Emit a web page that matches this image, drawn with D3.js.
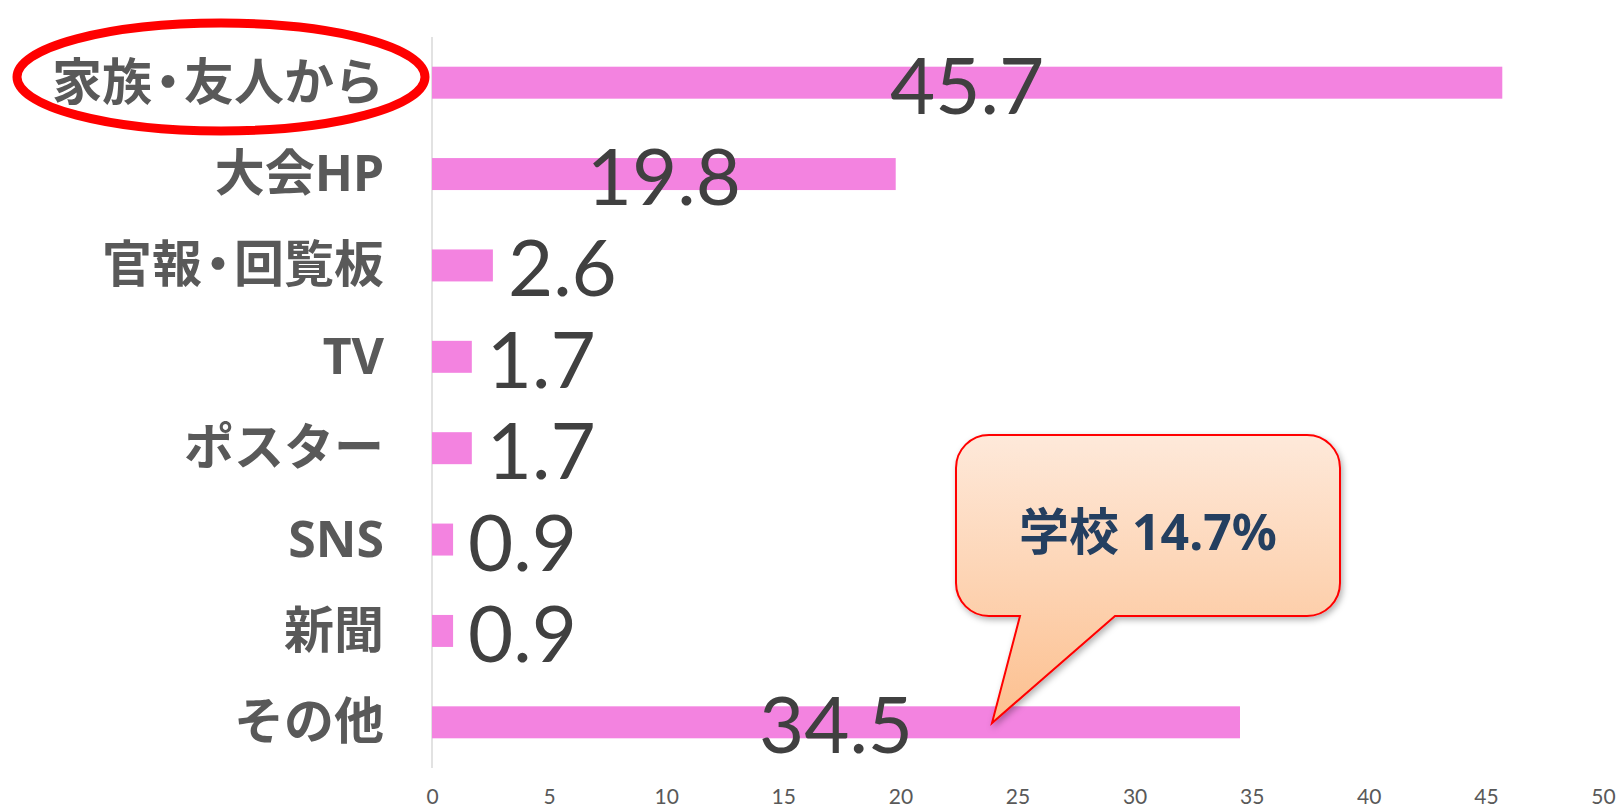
<!DOCTYPE html>
<html>
<head>
<meta charset="utf-8">
<script src="https://cdn.jsdelivr.net/npm/d3@7"></script>
<style>
    body { margin: 0; background: #fff; }
    svg { display: block; }
    .dot { font-feature-settings: "palt" 1; }
</style>
</head>
<body>
<div id="chart"></div>
<script>
// data
const categories = ["家族・友人から", "大会HP", "官報・回覧板", "TV", "ポスター", "SNS", "新聞", "その他"];
const values = [45.7, 19.8, 2.6, 1.7, 1.7, 0.9, 0.9, 34.5];
const xTicks = [0, 5, 10, 15, 20, 25, 30, 35, 40, 45, 50];
const calloutText = "学校 14.7%";

const width = 1617, height = 808;
const numFont = "Lato, 'Open Sans', sans-serif";
const jpFont = "'Noto Sans', 'Noto Sans CJK JP', sans-serif";

const svg = d3.select("#chart")
    .append("svg")
    .attr("width", width)
    .attr("height", height);

const defs = svg.append("defs");

const grad = defs.append("linearGradient")
    .attr("id", "calloutFill")
    .attr("gradientUnits", "userSpaceOnUse")
    .attr("x1", 0).attr("y1", 435)
    .attr("x2", 0).attr("y2", 724);
grad.append("stop").attr("offset", 0).attr("stop-color", "#fee9da");
grad.append("stop").attr("offset", 1).attr("stop-color", "#fcbf8e");

const shadow = defs.append("filter")
    .attr("id", "shadow")
    .attr("x", "-10%").attr("y", "-10%")
    .attr("width", "130%").attr("height", "130%");
shadow.append("feDropShadow")
    .attr("dx", 2).attr("dy", 3)
    .attr("stdDeviation", 3)
    .attr("flood-color", "#000")
    .attr("flood-opacity", 0.3);

const xScale = d3.scaleLinear()
    .domain([0, 50])
    .range([432, 1603]);

const yScale = d3.scaleBand()
    .domain(categories)
    .range([37, 768])
    .paddingInner(0.65)
    .paddingOuter(0.325);

const mid = d => yScale(d.category) + yScale.bandwidth() / 2;

// vertical axis line
svg.append("line")
    .attr("x1", xScale(0)).attr("x2", xScale(0))
    .attr("y1", 37).attr("y2", 768)
    .attr("stroke", "#d9d9d9")
    .attr("stroke-width", 1.5);

// x axis tick labels
const xAxis = d3.axisBottom(xScale)
    .tickValues(xTicks)
    .tickSize(0)
    .tickFormat(d3.format("d"));

const gx = svg.append("g")
    .attr("class", "x-axis")
    .attr("transform", "translate(0,804)")
    .call(xAxis);
gx.select(".domain").remove();
gx.selectAll("text")
    .attr("y", 0)
    .attr("dy", 0)
    .attr("fill", "#595959")
    .style("font-family", numFont)
    .style("font-size", "21px");

const rows = categories.map((c, i) => ({ category: c, value: values[i] }));

// bars
svg.selectAll(".bar")
    .data(rows)
    .enter().append("rect")
    .attr("class", "bar")
    .attr("x", xScale(0))
    .attr("y", d => yScale(d.category))
    .attr("width", d => xScale(d.value) - xScale(0))
    .attr("height", yScale.bandwidth())
    .attr("fill", "#f383e0");

// category labels; the middle dot uses proportional width like the original
const cats = svg.selectAll(".cat")
    .data(rows)
    .enter().append("text")
    .attr("class", "cat")
    .attr("x", 384)
    .attr("y", d => mid(d) + 17)
    .attr("text-anchor", "end")
    .attr("fill", "#595959")
    .style("font-family", jpFont)
    .style("font-weight", "bold")
    .style("font-size", "50px");

cats.each(function(d) {
    const t = d3.select(this);
    const parts = d.category.split("・");
    parts.forEach((p, i) => {
        if (i > 0) {
            const dot = t.append("tspan").attr("class", "dot").text("・");
            const pad = Math.max(0, (32 - dot.node().getComputedTextLength()) / 2);
            dot.attr("dx", pad);
            t.append("tspan").attr("dx", pad).text(p);
        } else {
            t.append("tspan").text(p);
        }
    });
});

// value labels
svg.selectAll(".val")
    .data(rows)
    .enter().append("text")
    .attr("class", "val")
    .attr("x", d => d.value > 10 ? xScale(d.value / 2) : xScale(d.value) + 15)
    .attr("y", d => mid(d) + 31)
    .attr("text-anchor", d => d.value > 10 ? "middle" : "start")
    .attr("fill", "#404040")
    .style("font-family", numFont)
    .style("font-size", "78px")
    .text(d => d.value.toFixed(1));

// red ellipse around the first category
svg.append("ellipse")
    .attr("cx", 221)
    .attr("cy", 77)
    .attr("rx", 204)
    .attr("ry", 54)
    .attr("fill", "none")
    .attr("stroke", "#ff0000")
    .attr("stroke-width", 9);

// speech bubble
const bx0 = 956, bx1 = 1340, by0 = 435, by1 = 616, r = 33;
const tipX = 992, tipY = 723;
const bubble = d3.path();
bubble.moveTo(bx0 + r, by0);
bubble.lineTo(bx1 - r, by0);
bubble.arcTo(bx1, by0, bx1, by0 + r, r);
bubble.lineTo(bx1, by1 - r);
bubble.arcTo(bx1, by1, bx1 - r, by1, r);
bubble.lineTo(1115, by1);
bubble.lineTo(tipX, tipY);
bubble.lineTo(1020, by1);
bubble.lineTo(bx0 + r, by1);
bubble.arcTo(bx0, by1, bx0, by1 - r, r);
bubble.lineTo(bx0, by0 + r);
bubble.arcTo(bx0, by0, bx0 + r, by0, r);
bubble.closePath();

svg.append("path")
    .attr("d", bubble.toString())
    .attr("fill", "url(#calloutFill)")
    .attr("stroke", "#ff0000")
    .attr("stroke-width", 2)
    .attr("filter", "url(#shadow)");

svg.append("text")
    .attr("x", 1148)
    .attr("y", 550)
    .attr("text-anchor", "middle")
    .attr("fill", "#243f60")
    .style("font-family", jpFont)
    .style("font-weight", "bold")
    .style("font-size", "50px")
    .text(calloutText);
</script>
</body>
</html>
